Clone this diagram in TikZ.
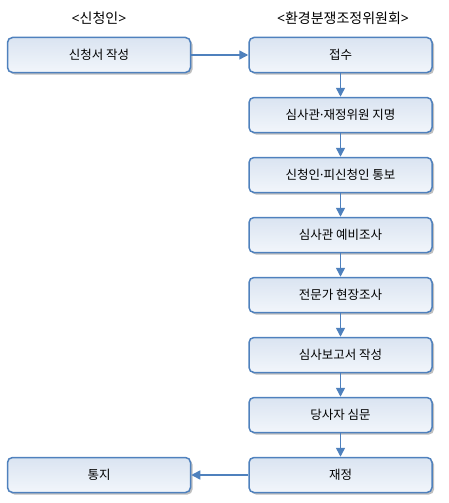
\documentclass[tikz,border=0pt]{standalone}
\usepackage{fontspec}
\newfontfamily\kr{Noto Sans CJK KR}
\newfontfamily\lat{Noto Sans}
\usetikzlibrary{positioning,arrows.meta,shadows}
\definecolor{boxline}{HTML}{4F81BD}
\definecolor{boxtop}{HTML}{DAE4F1}
\definecolor{boxbot}{HTML}{F2F6FB}
\newcommand{\mdot}{{\lat ·}}
\begin{document}
\begin{tikzpicture}[x=1pt,y=-1pt,
	box/.style={draw=boxline,line width=1.5pt,rounded corners=5pt,top color=boxtop,bottom color=boxbot,
		minimum width=183pt,minimum height=35pt,font=\kr\fontsize{12.5}{14}\selectfont,
		drop shadow={shadow xshift=2pt,shadow yshift=-2pt,opacity=.25,fill=black}},
	head/.style={font=\kr\fontsize{14}{16}\selectfont},
	flow/.style={boxline,line width=1.5pt,-{Triangle[width=9pt,length=9pt]}},
	node distance=23.5pt]
	\useasboundingbox (0,0) rectangle (448,503);

	\node[head] (hA) at (99,18) {{\lat<}신청인{\lat>}};
	\node[head] (hB) at (343,18) {{\lat<}환경분쟁조정위원회{\lat>}};

	\node[box] (s1) at (99,55) {신청서 작성};
	\node[box] (r1) at (340.5,55) {접수};
	\node[box,below=of r1] (r2) {심사관\mdot 재정위원 지명};
	\node[box,below=of r2] (r3) {신청인\mdot 피신청인 통보};
	\node[box,below=of r3] (r4) {심사관 예비조사};
	\node[box,below=of r4] (r5) {전문가 현장조사};
	\node[box,below=of r5] (r6) {심사보고서 작성};
	\node[box,below=of r6] (r7) {당사자 심문};
	\node[box,below=of r7] (r8) {재정};
	\node[box] (s2) at (s1 |- r8) {통지};

	\draw[flow] (s1) -- (r1);
	\foreach \a/\b in {1/2,2/3,3/4,4/5,5/6,6/7,7/8}
		\draw[flow] (r\a) -- (r\b);
	\draw[flow] (r8) -- (s2);
\end{tikzpicture}
\end{document}
